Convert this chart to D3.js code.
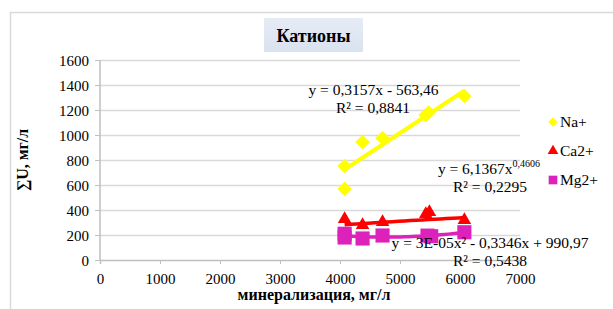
<!DOCTYPE html>
<html><head><meta charset="utf-8">
<script src="https://cdn.jsdelivr.net/npm/d3@7"></script>
<style>body{margin:0;background:#fff} svg text{font-family:"Liberation Serif","Times New Roman",serif !important}</style>
</head><body><svg id="c" width="613" height="309"></svg>
<script>
const naX = [4077, 4077, 4376, 4709, 5430, 5480, 6073];
const naY = [568, 752, 944, 976, 1160, 1180, 1312];
const caX = [4077, 4376, 4709, 5430, 5490, 6073];
const caY = [320, 272, 296, 360, 376, 312];
const mgX = [4077, 4077, 4376, 4709, 5458, 5520, 6073];
const mgY = [210, 180, 172, 196, 195, 190, 222];
const xTicks = [0, 1000, 2000, 3000, 4000, 5000, 6000, 7000];
const yTicks = [0, 200, 400, 600, 800, 1000, 1200, 1400, 1600];
const naFit = {a: 0.3157, b: -563.46};
const caFit = {a: 6.1367, p: 0.4606};

const svg = d3.select("#c");
const x = d3.scaleLinear().domain([0, 7000]).range([100, 520]);
const y = d3.scaleLinear().domain([0, 1600]).range([260, 60]);

svg.append("rect").attr("x", 10.5).attr("y", 12.5).attr("width", 640).attr("height", 320)
  .attr("fill", "#fff").attr("stroke", "#d9d9d9").attr("stroke-width", 1.5);

svg.append("g").selectAll("line").data(yTicks.slice(1)).join("line")
  .attr("x1", x(0)).attr("x2", x(7000)).attr("y1", d => y(d) + 0.5).attr("y2", d => y(d) + 0.5)
  .attr("stroke", "#d9d9d9").attr("stroke-width", 1.5);

const yAxis = svg.append("g").attr("transform", `translate(${x(0)},0)`)
  .call(d3.axisLeft(y).tickValues(yTicks).tickSize(5).tickPadding(6).tickFormat(d3.format("d")));
const xAxis = svg.append("g").attr("transform", `translate(0,${y(0)})`)
  .call(d3.axisBottom(x).tickValues(xTicks).tickSize(4).tickPadding(9).tickFormat(d3.format("d")));
[yAxis, xAxis].forEach(g => {
  g.attr("font-family", null).attr("font-size", null);
  g.select(".domain").attr("stroke", "#bfbfbf").attr("stroke-width", 1.5);
  g.selectAll(".tick line").attr("stroke", "#bfbfbf");
  g.selectAll("text").attr("fill", "#000").style("font-size", "15px");
});
yAxis.select(".domain").attr("d", `M0,${y(1600)}V${y(0)}`);
yAxis.selectAll("text").attr("dy", "0.35em");

const diamond = d3.symbol().type(d3.symbolDiamond2).size(135);
const tri = d3.symbol().type(d3.symbolTriangle).size(80);
const sq = d3.symbol().type(d3.symbolSquare).size(200);

const naData = naX.map((v, i) => [v, naY[i]]);
const caData = caX.map((v, i) => [v, caY[i]]);
const mgData = mgX.map((v, i) => [v, mgY[i]]);

const gM = svg.append("g");
gM.selectAll(".na").data(naData).join("path").attr("d", diamond)
  .attr("transform", d => `translate(${x(d[0])},${y(d[1])})`).attr("fill", "#ffff00");
const naXs = d3.extent(naX);
gM.append("line").attr("x1", x(naXs[0])).attr("y1", y(naFit.a * naXs[0] + naFit.b))
  .attr("x2", x(naXs[1])).attr("y2", y(naFit.a * naXs[1] + naFit.b))
  .attr("stroke", "#ffff00").attr("stroke-width", 4);

gM.selectAll(".ca").data(caData).join("path").attr("d", tri)
  .attr("transform", d => `translate(${x(d[0])},${y(d[1]) - 1})`).attr("fill", "#ff0000");
const caXs = d3.extent(caX);
const caLine = d3.range(0, 21).map(i => { const xv = caXs[0] + (caXs[1] - caXs[0]) * i / 20; return [xv, caFit.a * Math.pow(xv, caFit.p)]; });
gM.append("path").datum(caLine).attr("d", d3.line().x(d => x(d[0])).y(d => y(d[1])))
  .attr("fill", "none").attr("stroke", "#ff0000").attr("stroke-width", 3.5);

function quadFit(xs, ys) {
  const n = xs.length, m = d3.mean(xs);
  const u = xs.map(v => v - m);
  const S = k => d3.sum(u, v => Math.pow(v, k));
  const T = k => d3.sum(u.map((v, i) => Math.pow(v, k) * ys[i]));
  const A = [[n, S(1), S(2)], [S(1), S(2), S(3)], [S(2), S(3), S(4)]];
  const B = [T(0), T(1), T(2)];
  for (let i = 0; i < 3; i++) {
    for (let j = i + 1; j < 3; j++) {
      const f = A[j][i] / A[i][i];
      for (let k = i; k < 3; k++) A[j][k] -= f * A[i][k];
      B[j] -= f * B[i];
    }
  }
  const c = [0, 0, 0];
  for (let i = 2; i >= 0; i--) {
    let s = B[i];
    for (let k = i + 1; k < 3; k++) s -= A[i][k] * c[k];
    c[i] = s / A[i][i];
  }
  return xv => c[0] + c[1] * (xv - m) + c[2] * (xv - m) * (xv - m);
}
const mgF = quadFit(mgX, mgY);
const mgXs = d3.extent(mgX);
const mgLine = d3.range(0, 31).map(i => { const xv = mgXs[0] + (mgXs[1] - mgXs[0]) * i / 30; return [xv, mgF(xv)]; });
gM.selectAll(".mg").data(mgData).join("path").attr("d", sq)
  .attr("transform", d => `translate(${x(d[0])},${y(d[1])})`).attr("fill", "#dd22bb");
gM.append("path").datum(mgLine).attr("d", d3.line().x(d => x(d[0])).y(d => y(d[1])))
  .attr("fill", "none").attr("stroke", "#dd22bb").attr("stroke-width", 3.5);

const lab = (t, xx, yy, anchor) => svg.append("text").attr("x", xx).attr("y", yy)
  .attr("text-anchor", anchor || "middle").style("font-size", "15.5px").text(t);
lab("y = 0,3157x - 563,46", 373.5, 95);
lab("R² = 0,8841", 373, 113);
const e2 = svg.append("text").attr("x", 540).attr("y", 174).attr("text-anchor", "end").style("font-size", "15.5px");
e2.append("tspan").text("y = 6,1367x");
e2.append("tspan").attr("dy", -7).style("font-size", "10px").text("0,4606");
lab("R² = 0,2295", 490, 192);
lab("y = 3E-05x² - 0,3346x + 990,97", 490, 248);
lab("R² = 0,5438", 490, 266);

const lg = svg.append("g");
const items = [["Na+", d3.symbol().type(d3.symbolDiamond2).size(55), "#ffff00", 122],
               ["Ca2+", d3.symbol().type(d3.symbolTriangle).size(50), "#ff0000", 151],
               ["Mg2+", d3.symbol().type(d3.symbolSquare).size(75), "#dd22bb", 180]];
items.forEach(([t, s, c, yy]) => {
  lg.append("path").attr("d", s).attr("transform", `translate(553,${yy})`).attr("fill", c);
  lg.append("text").attr("x", 560).attr("y", yy + 5).style("font-size", "15.5px").text(t);
});

const defs = svg.append("defs");
const gr = defs.append("linearGradient").attr("id", "tg").attr("x1", 0).attr("y1", 0).attr("x2", 0).attr("y2", 1);
gr.append("stop").attr("offset", 0).attr("stop-color", "#e6ecf5");
gr.append("stop").attr("offset", 1).attr("stop-color", "#d9e2ef");
svg.append("rect").attr("x", 264).attr("y", 18).attr("width", 99).attr("height", 34).attr("fill", "url(#tg)");
svg.append("text").attr("x", 313.5).attr("y", 42).attr("text-anchor", "middle")
  .style("font-size", "18px").style("font-weight", "bold").text("Катионы");

svg.append("text").attr("transform", "translate(28,160) rotate(-90)").attr("text-anchor", "middle")
  .style("font-size", "16px").style("font-weight", "bold").text("∑U, мг/л");
svg.append("text").attr("x", 314).attr("y", 300).attr("text-anchor", "middle")
  .style("font-size", "16px").style("font-weight", "bold").text("минерализация, мг/л");
</script></body></html>
